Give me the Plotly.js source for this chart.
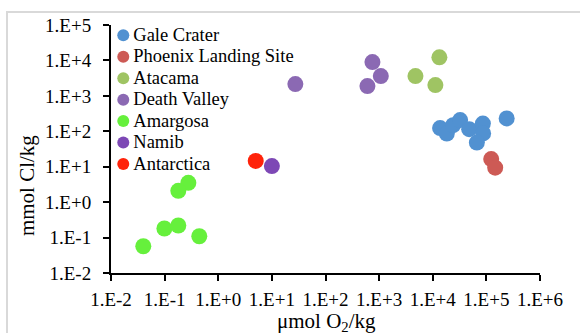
<!DOCTYPE html>
<html>
<head>
<meta charset="utf-8">
<script src="https://cdn.plot.ly/plotly-3.0.1.min.js"></script>
<style>
  html, body { margin:0; padding:0; background:#fff; overflow:hidden; }
  #frame { position:absolute; left:6px; top:11px; width:600px; height:400px; border:2px solid #d9d9d9; }
  #chart { position:absolute; left:0; top:0; width:580px; height:333px; }
  #chart .legendtext {
    font-family: "Liberation Serif", serif !important;
    font-size: 18.5px !important;
    transform: translateX(-10px);
  }
  #chart .legend, #chart .legend .scrollbox, #chart .legend g { clip-path: none !important; }
</style>
</head>
<body>
<div id="frame"></div>
<div id="chart"></div>
<script>
// Series names
const seriesNames = ["Gale Crater", "Phoenix Landing Site", "Atacama", "Death Valley", "Amargosa", "Namib", "Antarctica"];
const seriesColors = ["#5191D1", "#CD5A55", "#9FC463", "#8B69B3", "#66F03C", "#7D48B5", "#FF230A"];

// x: µmol O2/kg, y: mmol Cl/kg
const galeX = [13700, 18300, 24000, 32400, 47800, 86000, 87000, 66500, 239000];
const galeY = [123, 86, 149, 207, 115, 165, 87, 48, 231];
const phoenixX = [123000, 146000];
const phoenixY = [16.4, 9.4];
const atacamaX = [13300, 4760, 11200];
const atacamaY = [12200, 3620, 2020];
const deathValleyX = [27.4, 750, 1075, 605];
const deathValleyY = [2150, 9000, 3620, 1890];
const amargosaX = [0.277, 0.18, 0.099, 0.18, 0.443, 0.040];
const amargosaY = [3.5, 2.08, 0.18, 0.219, 0.109, 0.057];
const namibX = [10];
const namibY = [10.4];
const antarcticaX = [5.0];
const antarcticaY = [14.6];

const xTickVals = [0.01, 0.1, 1, 10, 100, 1000, 10000, 100000, 1000000];
const xTickText = ["1.E-2", "1.E-1", "1.E+0", "1.E+1", "1.E+2", "1.E+3", "1.E+4", "1.E+5", "1.E+6"];
const yTickVals = [0.01, 0.1, 1, 10, 100, 1000, 10000, 100000];
const yTickText = ["1.E-2", "1.E-1", "1.E+0", "1.E+1", "1.E+2", "1.E+3", "1.E+4", "1.E+5"];

const xTitle = "μmol O<sub>2</sub>/kg";
const yTitle = "mmol Cl/kg";

const xs = [galeX, phoenixX, atacamaX, deathValleyX, amargosaX, namibX, antarcticaX];
const ys = [galeY, phoenixY, atacamaY, deathValleyY, amargosaY, namibY, antarcticaY];

const FONT = "Liberation Serif, Times New Roman, serif";

const traces = seriesNames.map((n, i) => ({
  type: "scatter",
  mode: "markers",
  name: n,
  x: xs[i],
  y: ys[i],
  marker: { color: seriesColors[i], size: 16, line: { width: 0 } },
  hoverinfo: "x+y"
}));

const layout = {
  width: 580,
  height: 333,
  margin: { l: 111, r: 40, t: 25, b: 60, pad: 0 },
  paper_bgcolor: "rgba(0,0,0,0)",
  plot_bgcolor: "rgba(0,0,0,0)",
  font: { family: FONT, color: "#000", size: 19 },
  showlegend: true,
  legend: {
    x: -0.018, xanchor: "left",
    y: 1.022, yanchor: "top",
    bgcolor: "rgba(0,0,0,0)",
    borderwidth: 0,
    itemsizing: "constant",
    font: { family: "Liberation Serif", size: 14.2, color: "#000" }
  },
  xaxis: {
    type: "log",
    range: [-2, 6],
    tickvals: xTickVals,
    ticktext: xTickText,
    tickangle: 0,
    ticks: "outside",
    ticklen: 6,
    tickwidth: 2,
    tickcolor: "#000",
    ticklabelstandoff: 2,
    showline: true,
    linecolor: "#000",
    linewidth: 2,
    showgrid: false,
    zeroline: false,
    tickfont: { family: FONT, size: 19, color: "#000" }
  },
  yaxis: {
    type: "log",
    range: [-2, 5],
    tickvals: yTickVals,
    ticktext: yTickText,
    ticks: "outside",
    ticklen: 6,
    tickwidth: 2,
    tickcolor: "#000",
    ticklabelstandoff: 8,
    showline: true,
    linecolor: "#000",
    linewidth: 2,
    showgrid: false,
    zeroline: false,
    tickfont: { family: FONT, size: 19, color: "#000" }
  },
  annotations: [{
    text: yTitle,
    xref: "paper", yref: "paper",
    x: -0.196, y: 0.354,
    xanchor: "center", yanchor: "middle",
    textangle: -90,
    showarrow: false,
    font: { family: FONT, size: 21, color: "#000" }
  }, {
    text: xTitle,
    xref: "paper", yref: "paper",
    x: 0.503, y: -0.198,
    xanchor: "center", yanchor: "middle",
    showarrow: false,
    font: { family: FONT, size: 21, color: "#000" }
  }]
};

Plotly.newPlot("chart", traces, layout, { displayModeBar: false, staticPlot: true });
</script>
</body>
</html>
